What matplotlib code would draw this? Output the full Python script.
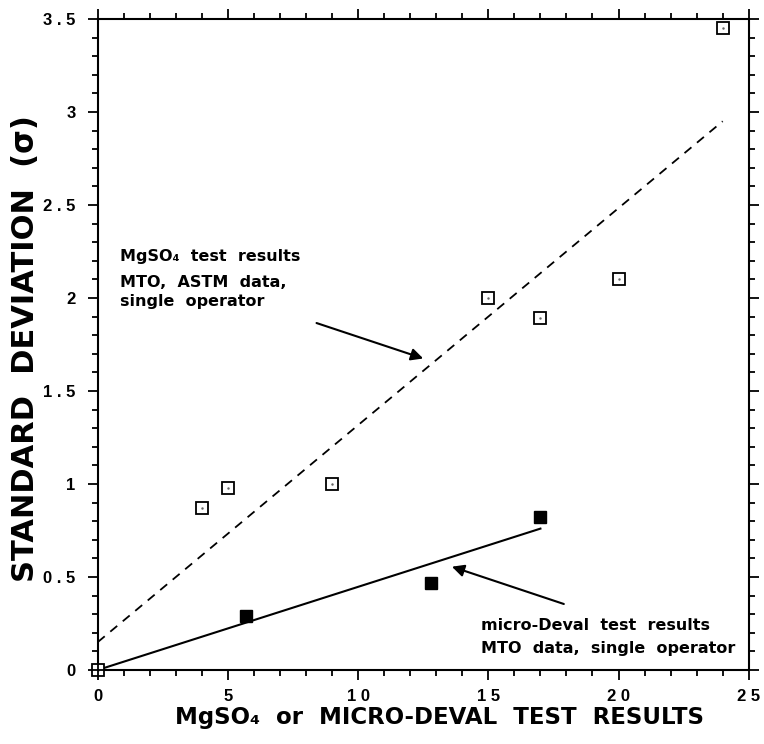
import numpy as np
import matplotlib
matplotlib.use('Agg')
import matplotlib.pyplot as plt
from matplotlib.ticker import MultipleLocator

plt.rcParams['font.family'] = ['DejaVu Sans']
plt.rcParams['font.weight'] = 'bold'

# MgSO4 test results (open squares)
mgso4_x = [0, 4, 5, 9, 15, 17, 20, 24]
mgso4_sd = [0.0, 0.87, 0.98, 1.0, 2.0, 1.89, 2.1, 3.45]

# micro-Deval test results (filled squares)
mdev_x = [5.7, 12.8, 17]
mdev_sd = [0.29, 0.47, 0.82]

# fitted lines
mgso4_fit_x = [0, 24]
mgso4_fit_y = [0.15, 2.95]
mdev_fit_x = [0, 17]
mdev_fit_y = [0.0, 0.76]

xticks = [0, 5, 10, 15, 20, 25]
xticklabels = ['0', '5', '1 0', '1 5', '2 0', '2 5']
yticks = [0, 0.5, 1, 1.5, 2, 2.5, 3, 3.5]
yticklabels = ['0', '0 . 5', '1', '1 . 5', '2', '2 . 5', '3', '3 . 5']

fig = plt.figure(figsize=(7.64, 7.44), dpi=100)
ax = fig.add_axes([0.128, 0.0995, 0.852, 0.875])

ax.plot(mgso4_fit_x, mgso4_fit_y, color='black', lw=1.3, ls=(0, (5, 4)))
ax.plot(mdev_fit_x, mdev_fit_y, color='black', lw=1.5)
ax.plot(mgso4_x, mgso4_sd, ls='none', marker='s', ms=8.5, mfc='white',
        mec='black', mew=1.3, clip_on=False, zorder=5)
ax.plot(mgso4_x, mgso4_sd, ls='none', marker='.', ms=1.5, color='0.4', clip_on=False, zorder=6)
ax.plot([0], [0], ls='none', marker='+', ms=8.5, color='black', mew=1.3, clip_on=False, zorder=7)
ax.plot(mdev_x, mdev_sd, ls='none', marker='s', ms=9, color='black', clip_on=False, zorder=5)

ax.set_xlim(0, 25)
ax.set_ylim(0, 3.5)
ax.set_xticks(xticks)
ax.set_xticklabels(xticklabels, fontweight='bold', family=['Liberation Sans'])
ax.set_yticks(yticks)
ax.set_yticklabels(yticklabels, fontweight='bold', family=['Liberation Sans'])
ax.xaxis.set_minor_locator(MultipleLocator(1))
ax.yaxis.set_minor_locator(MultipleLocator(0.1))
ax.tick_params(which='both', direction='out', top=True, right=True,
               labeltop=False, labelright=False, width=1.3)
ax.tick_params(which='major', length=7, labelsize=12)
ax.tick_params(axis='x', which='major', pad=7)
ax.tick_params(axis='y', which='major', pad=9)
ax.tick_params(which='minor', length=4)
for s in ax.spines.values():
    s.set_linewidth(1.5)

ax.set_xlabel('MgSO₄  or  MICRO-DEVAL  TEST  RESULTS', fontsize=16.5,
              fontweight='bold')
ax.xaxis.set_label_coords(0.525, -0.056)
ax.set_ylabel('STANDARD  DEVIATION  (σ)', fontsize=22, fontweight='bold')
ax.yaxis.set_label_coords(-0.089, 0.493)

note = dict(fontsize=11.5, fontweight='bold')
ax.text(0.85, 2.2, 'MgSO₄  test  results', **note)
ax.text(0.85, 2.06, 'MTO,  ASTM  data,', **note)
ax.text(0.85, 1.955, 'single  operator', **note)
ax.annotate('', xy=(12.6, 1.67), xytext=(8.3, 1.87),
            arrowprops=dict(arrowstyle='-|>', color='black', lw=1.5, mutation_scale=18))

ax.text(14.7, 0.215, 'micro-Deval  test  results', **note)
ax.text(14.7, 0.09, 'MTO  data,  single  operator', **note)
ax.annotate('', xy=(13.5, 0.56), xytext=(18.0, 0.35),
            arrowprops=dict(arrowstyle='-|>', color='black', lw=1.5, mutation_scale=18))

fig.savefig('out.png', dpi=100)
